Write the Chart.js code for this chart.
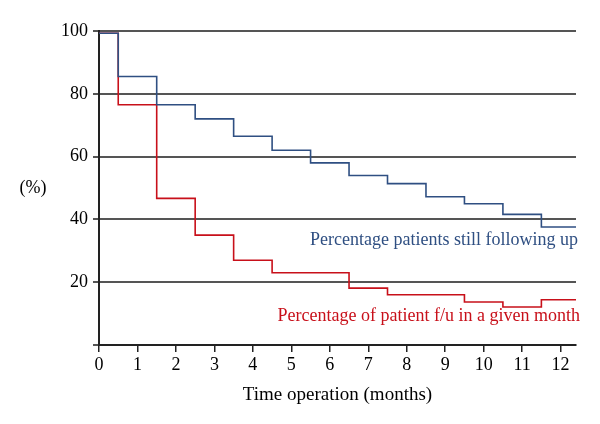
<!DOCTYPE html>
<html>
<head>
<meta charset="utf-8">
<script src="https://cdn.jsdelivr.net/npm/chart.js@4"></script>
<style>
  html, body { margin: 0; padding: 0; background: #fff; }
  #wrap { width: 600px; height: 424px; position: relative; }
</style>
</head>
<body>
<div id="wrap"><canvas id="chart"></canvas></div>
<script>
// Step points: month where the value changes, and the new value
const stillMonths = [0, 0.5, 1.5, 2.5, 3.5, 4.5, 5.5, 6.5, 7.5, 8.5, 9.5, 10.5, 11.5, 12.4];
const stillValues = [99.3, 85.5, 76.5, 72, 66.5, 62, 58, 54, 51.4, 47.2, 45, 41.6, 37.6, 37.6];

const fuMonths = [0, 0.5, 1.5, 2.5, 3.5, 4.5, 6.5, 7.5, 9.5, 10.5, 11.5, 12.4];
const fuValues = [99.3, 76.5, 46.7, 35, 27, 23, 18.1, 16, 13.7, 12.1, 14.4, 14.4];

const xTicks = [0, 1, 2, 3, 4, 5, 6, 7, 8, 9, 10, 11, 12];
const yTicks = [0, 20, 40, 60, 80, 100];

const serif = "'Liberation Serif', 'DejaVu Serif', serif";
const blue = '#2f4f82';
const red = '#c8101a';

const toPoints = (xs, ys) => xs.map((x, i) => ({ x: x, y: ys[i] }));

// draws the two series captions and the "(%)" axis label
const labelsPlugin = {
    id: 'labels',
    afterDraw(chart) {
        const ctx = chart.ctx;
        const xs = chart.scales.x;
        const ys = chart.scales.y;
        ctx.save();
        ctx.font = '18px ' + serif;
        ctx.textBaseline = 'middle';
        ctx.textAlign = 'right';
        ctx.fillStyle = blue;
        ctx.fillText('Percentage patients still following up', xs.right + 2, ys.getPixelForValue(33.3));
        ctx.fillStyle = red;
        ctx.fillText('Percentage of patient f/u in a given month', xs.right + 4, ys.getPixelForValue(9.0));
        ctx.fillStyle = '#000';
        ctx.textAlign = 'center';
        ctx.fillText('(%)', 33, ys.getPixelForValue(50));
        ctx.restore();
    }
};

new Chart(document.getElementById('chart'), {
    type: 'line',
    data: {
        datasets: [{
            label: 'Percentage patients still following up',
            data: toPoints(stillMonths, stillValues),
            borderColor: blue,
            borderWidth: 1.6,
            stepped: 'before',
            pointRadius: 0,
            fill: false
        }, {
            label: 'Percentage of patient f/u in a given month',
            data: toPoints(fuMonths, fuValues),
            borderColor: red,
            borderWidth: 1.6,
            stepped: 'before',
            pointRadius: 0,
            fill: false
        }]
    },
    options: {
        responsive: true,
        maintainAspectRatio: false,
        animation: false,
        layout: {
            padding: { top: 31, right: 24, bottom: 18, left: 0 }
        },
        plugins: {
            legend: { display: false },
            tooltip: { enabled: false }
        },
        scales: {
            x: {
                type: 'linear',
                min: 0,
                max: 12.4,
                afterBuildTicks: scale => { scale.ticks = xTicks.map(v => ({ value: v })); },
                afterFit: scale => { scale.height = 61; },
                grid: {
                    drawOnChartArea: false,
                    color: '#222',
                    lineWidth: 1.5,
                    tickLength: 7
                },
                border: { color: '#222', width: 2 },
                ticks: {
                    color: '#000',
                    font: { family: serif, size: 18 },
                    padding: 2,
                    maxRotation: 0
                },
                title: {
                    display: true,
                    text: 'Time operation (months)',
                    color: '#000',
                    font: { family: serif, size: 19 },
                    padding: { top: 0, bottom: 0 }
                }
            },
            y: {
                min: 0,
                max: 100,
                afterBuildTicks: scale => { scale.ticks = yTicks.map(v => ({ value: v })); },
                afterFit: scale => { scale.width = 99; },
                grid: {
                    color: '#555',
                    lineWidth: 2,
                    tickLength: 6
                },
                border: { color: '#222', width: 2 },
                ticks: {
                    color: '#000',
                    font: { family: serif, size: 18 },
                    padding: 5,
                    callback: v => (v === 0 ? '' : v)
                }
            }
        }
    },
    plugins: [labelsPlugin]
});
</script>
</body>
</html>
